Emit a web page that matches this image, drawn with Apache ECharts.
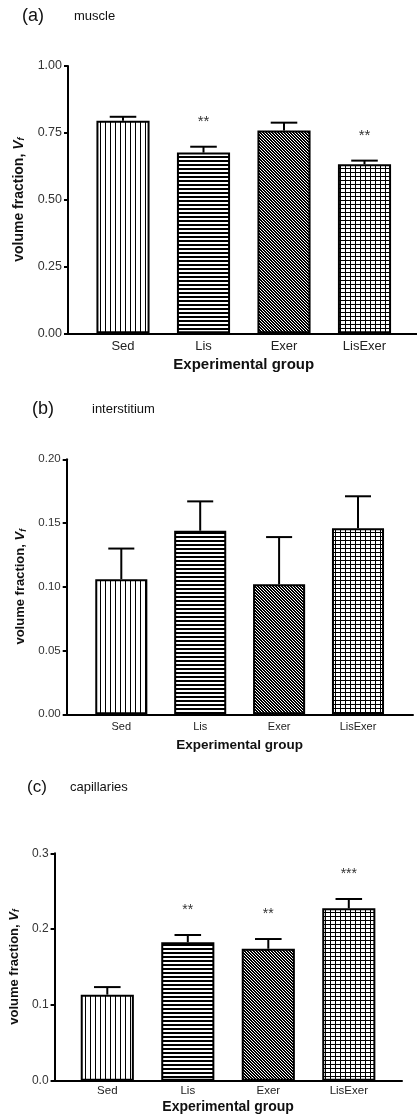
<!DOCTYPE html>
<html>
<head>
<meta charset="utf-8">
<script src="https://cdn.jsdelivr.net/npm/echarts@6/dist/echarts.min.js"></script>
<style>
html,body{margin:0;padding:0;background:#fff;}
#chart{width:417px;height:1115px;}
</style>
</head>
<body>
<div id="chart"></div>
<script>
// ---- data ----
const categories = ['Sed', 'Lis', 'Exer', 'LisExer'];

const muscleMean = [0.795, 0.676, 0.759, 0.632];
const muscleSem  = [0.015, 0.022, 0.029, 0.014];
const muscleSig  = ['', '**', '', '**'];
const muscleTicks = ['0.00', '0.25', '0.50', '0.75', '1.00'];

const interMean = [0.106, 0.144, 0.102, 0.146];
const interSem  = [0.024, 0.023, 0.037, 0.025];
const interSig  = ['', '', '', ''];
const interTicks = ['0.00', '0.05', '0.10', '0.15', '0.20'];

const capMean = [0.1135, 0.1826, 0.1741, 0.2274];
const capSem  = [0.0100, 0.0096, 0.0128, 0.0123];
const capSig  = ['', '**', '**', '***'];
const capTicks = ['0.0', '0.1', '0.2', '0.3'];

const xTitle = 'Experimental group';
const yTitle = 'volume fraction, {v|V}{f|f}';

// ---- patterns ----
function makeTile(w, h, draw) {
  const c = document.createElement('canvas');
  c.width = w; c.height = h;
  const ctx = c.getContext('2d');
  ctx.fillStyle = '#fff'; ctx.fillRect(0, 0, w, h);
  ctx.fillStyle = '#000';
  draw(ctx);
  return c;
}
const patVertical = makeTile(5, 4, ctx => { ctx.fillRect(0, 0, 1, 4); });
const patHorizontal = makeTile(4, 4, ctx => { ctx.fillRect(0, 0, 4, 2); });
const patDiagonal = makeTile(3, 3, ctx => {
  ctx.fillRect(0, 0, 3, 3);
  ctx.fillStyle = '#fff';
  for (let i = 0; i < 3; i++) ctx.fillRect(i, i, 1, 1);
});
const patGrid = makeTile(5, 4, ctx => { ctx.fillRect(0, 0, 5, 1); ctx.fillRect(0, 0, 1, 4); });
const patterns = [patVertical, patHorizontal, patDiagonal, patGrid];

const FONT = '"Liberation Sans", Arial, Helvetica, sans-serif';

// ---- panel layouts ----
const panels = [
  { mean: muscleMean, sem: muscleSem, sig: muscleSig, ticks: muscleTicks, max: 1.0, interval: 0.25,
    frame: { left: 68, right: 0, top: 66, height: 267.3 },
    bars:  { left: 82.75, right: 12.25 },
    tickFont: 12.5, catFont: 13, catMargin: 7, xNameFont: 15, xNameGap: 24,
    yNameFont: 14, yNameGap: 42, sigFont: 15 },
  { mean: interMean, sem: interSem, sig: interSig, ticks: interTicks, max: 0.20, interval: 0.05,
    frame: { left: 66.7, right: 4, top: 459.3, height: 255 },
    bars:  { left: 81.85, right: 19.55 },
    tickFont: 11.5, catFont: 11, catMargin: 7, xNameFont: 13.5, xNameGap: 24,
    yNameFont: 13, yNameGap: 37, sigFont: 13 },
  { mean: capMean, sem: capSem, sig: capSig, ticks: capTicks, max: 0.3, interval: 0.1,
    frame: { left: 53.3, right: 15, top: 853.3, height: 227.4 },
    bars:  { left: 67.05, right: 27.95 },
    tickFont: 12, catFont: 11.5, catMargin: 4.5, xNameFont: 14, xNameGap: 19,
    yNameFont: 13, yNameGap: 32, sigFont: 14 }
];

const grid = [], xAxis = [], yAxis = [], series = [];
panels.forEach((p, k) => {
  const gf = 2 * k, gb = 2 * k + 1;
  grid.push({ left: p.frame.left, right: p.frame.right, top: p.frame.top, height: p.frame.height });
  grid.push({ left: p.bars.left, right: p.bars.right, top: p.frame.top, height: p.frame.height });

  xAxis.push({
    gridIndex: gf, type: 'value', min: 0, max: 1,
    axisLine: { show: true, onZero: false, lineStyle: { color: '#000', width: 2 } },
    axisTick: { show: false }, axisLabel: { show: false }, splitLine: { show: false }
  });
  yAxis.push({
    gridIndex: gf, type: 'value', min: 0, max: p.max, interval: p.interval,
    axisLine: { show: true, onZero: false, lineStyle: { color: '#000', width: 2 } },
    axisTick: { show: true, length: 4, lineStyle: { color: '#000', width: 2 } },
    axisLabel: {
      fontSize: p.tickFont, fontFamily: FONT, color: '#333', margin: 6,
      formatter: v => p.ticks[Math.round(v / p.interval)]
    },
    splitLine: { show: false },
    name: yTitle, nameLocation: 'middle', nameGap: p.yNameGap,
    nameTextStyle: {
      fontSize: p.yNameFont, fontWeight: 'bold', fontFamily: FONT, color: '#111',
      rich: {
        v: { fontSize: p.yNameFont, fontWeight: 'bold', fontStyle: 'italic', fontFamily: FONT, color: '#111' },
        f: { fontSize: p.yNameFont * 0.65, fontWeight: 'bold', fontStyle: 'italic', fontFamily: FONT, color: '#111', verticalAlign: 'bottom' }
      }
    }
  });
  xAxis.push({
    gridIndex: gb, type: 'category', data: categories,
    axisLine: { show: false }, axisTick: { show: false }, splitLine: { show: false },
    axisLabel: { fontSize: p.catFont, fontFamily: FONT, color: '#222', margin: p.catMargin },
    name: xTitle, nameLocation: 'middle', nameGap: p.xNameGap,
    nameTextStyle: { fontSize: p.xNameFont, fontWeight: 'bold', fontFamily: FONT, color: '#111' }
  });
  yAxis.push({ gridIndex: gb, type: 'value', min: 0, max: p.max, show: false });

  series.push({
    type: 'bar', xAxisIndex: gb, yAxisIndex: gb, barWidth: '66%', silent: true,
    data: p.mean.map((v, i) => ({
      value: v,
      itemStyle: { color: { image: patterns[i], repeat: 'repeat' }, borderColor: '#000', borderWidth: 2 }
    }))
  });
  series.push({
    type: 'custom', xAxisIndex: gb, yAxisIndex: gb, silent: true, z: 5,
    data: p.mean.map((v, i) => [i, v, p.sem[i]]),
    renderItem: function (params, api) {
      const i = api.value(0), v = api.value(1), e = api.value(2);
      const base = api.coord([i, v]);
      const top = api.coord([i, v + e]);
      const bw = api.size([1, 0])[0] * 0.66;
      const half = bw * 0.25;
      const children = [
        { type: 'line', shape: { x1: base[0], y1: base[1], x2: top[0], y2: top[1] }, style: { stroke: '#000', lineWidth: 2 } },
        { type: 'line', shape: { x1: top[0] - half, y1: top[1], x2: top[0] + half, y2: top[1] }, style: { stroke: '#000', lineWidth: 2 } }
      ];
      const s = p.sig[params.dataIndex];
      if (s) {
        children.push({ type: 'text', style: { text: s, x: top[0], y: top[1] - 25, align: 'center', verticalAlign: 'middle', fill: '#333', font: p.sigFont + 'px ' + FONT } });
      }
      return { type: 'group', children: children };
    }
  });
});

const panelTitles = [
  { tag: '(a)', name: 'muscle', tagX: 22, nameX: 74, y: 18, tagSize: 18, nameSize: 13 },
  { tag: '(b)', name: 'interstitium', tagX: 32, nameX: 92, y: 410.7, tagSize: 18, nameSize: 13 },
  { tag: '(c)', name: 'capillaries', tagX: 27, nameX: 70, y: 789, tagSize: 17, nameSize: 13 }
];
const graphic = [];
panelTitles.forEach(t => {
  graphic.push({ type: 'text', left: t.tagX, top: t.y - t.tagSize * 0.6, style: { text: t.tag, font: t.tagSize + 'px ' + FONT, fill: '#111' } });
  graphic.push({ type: 'text', left: t.nameX, top: t.y - t.nameSize * 0.6, style: { text: t.name, font: t.nameSize + 'px ' + FONT, fill: '#111' } });
});

const chart = echarts.init(document.getElementById('chart'), null, { renderer: 'canvas' });
chart.setOption({
  animation: false,
  backgroundColor: '#fff',
  grid: grid, xAxis: xAxis, yAxis: yAxis, series: series, graphic: graphic
});
</script>
</body>
</html>
